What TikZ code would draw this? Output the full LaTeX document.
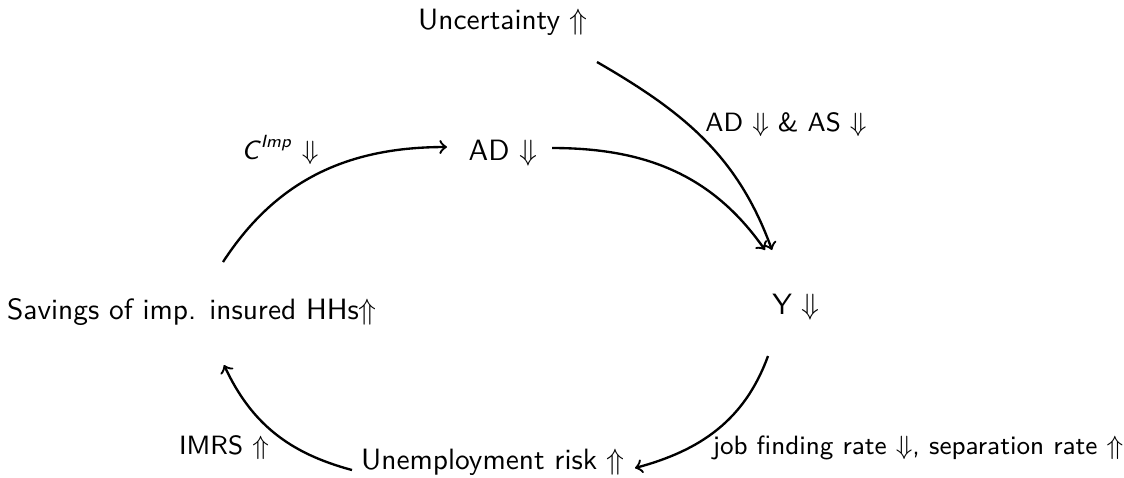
\documentclass[tikz,border=0pt]{standalone}
\usepackage{amsmath}
\begin{document}
\begin{tikzpicture}[x=0.01196cm,y=-0.01196cm,
  every node/.style={font=\sffamily, inner sep=0pt},
  lab/.style={font=\sffamily\small},
  conn/.style={->, thick}]
\useasboundingbox (0,0) rectangle (1124,477);
\node (unc) at (503,22) {Uncertainty $\Uparrow$};
\node (ad) at (503,153) {AD $\Downarrow$};
\node (y) at (796,307) {Y $\Downarrow$};
\node (sav) at (192,312) {Savings of imp. insured HHs$\Uparrow$};
\node (un) at (493,462) {Unemployment risk $\Uparrow$};
\node[lab] (lc) at (280,150) {\textit{C}\textsuperscript{\textit{Imp}} $\Downarrow$};
\node[lab] (las) at (786,125) {AD $\Downarrow$ \& AS $\Downarrow$};
\node[lab] (limrs) at (224,448) {IMRS $\Uparrow$};
\node[lab] (ljob) at (918,448) {job finding rate $\Downarrow$, separation rate $\Uparrow$};
\draw[conn] ([shift={(31,-50)}]sav.center) to[out=57,in=180] ([shift={(-56,-6)}]ad.center);
\draw[conn] ([shift={(49,-5)}]ad.center) to[out=0,in=125] ([shift={(-31,-57)}]y.center);
\draw[conn] ([shift={(94,40)}]unc.center) to[out=-30,in=110] ([shift={(-24,-57)}]y.center);
\draw[conn] ([shift={(-28,49)}]y.center) to[out=-110,in=15] ([shift={(142,6)}]un.center);
\draw[conn] ([shift={(-141,8)}]un.center) to[out=165,in=-65] ([shift={(32,53)}]sav.center);
\end{tikzpicture}
\end{document}
